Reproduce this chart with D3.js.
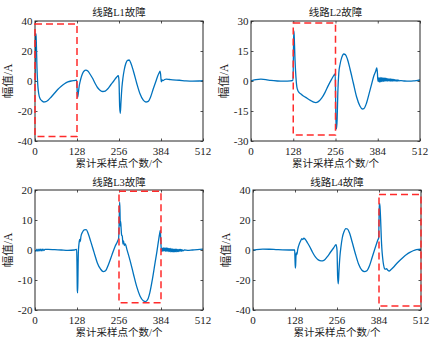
<!DOCTYPE html>
<html><head><meta charset="utf-8">
<script src="https://cdn.jsdelivr.net/npm/d3@7"></script>
<style>body{margin:0;background:#fff}svg{display:block}</style></head>
<body>
<script>
const xTicks = [0, 128, 256, 384, 512];
const titles = ["线路L1故障", "线路L2故障", "线路L3故障", "线路L4故障"];
const xLabel = "累计采样点个数/个";
const yLabel = "幅值/A";
const yTicks1 = [-40, -20, 0, 20, 40];
const yTicks2 = [-30, -15, 0, 15, 30];
const yTicks3 = [-20, -10, 0, 10, 20];
const yTicks4 = [-40, -20, 0, 20, 40];

// fault windows [x0, x1, y0, y1]
const box1 = [0, 128, -37, 38];
const box2 = [128, 256, -27, 29];
const box3 = [256, 384, -17.6, 19.6];
const box4 = [384, 512, -37.3, 37];

// sampled current waveforms [sample, amplitude]
const series1 = [[0,0],[0.6,20],[2,31],[3,31.5],[4,26],[6,9],[8,-1],[11,-8],[15,-11.5],[20,-13],[27,-14],[33,-13.8],[40,-12.8],[50,-10.5],[60,-8],[70,-5.5],[80,-3.5],[90,-1.8],[100,-0.6],[110,0],[120,0.3],[127,0.5],[128,-4],[130,-11],[132,-8],[135,-3],[139,1],[144,4.5],[149,6.5],[155,7.2],[161,6.6],[168,4.5],[175,2],[183,-1.5],[191,-4.5],[199,-6.3],[207,-7],[214,-6.7],[222,-5.2],[231,-2.5],[240,0],[248,2.3],[254,3.5],[256,0],[258,-17],[260,-21.5],[262,-14],[265,-4],[268,2],[272,7.5],[277,11.8],[282,13.8],[287,14],[292,12],[300,6.5],[310,-1.5],[320,-8.5],[330,-12.8],[338,-14],[345,-13.6],[352,-10.8],[360,-5.5],[368,-0.5],[374,3.3],[378,5.3],[381,6.5],[383,4],[385,-0.5],[387,0.8],[390,0.2],[395,1],[400,1.2],[410,1],[420,0.8],[440,0.5],[460,0.1],[480,-0.1],[500,0],[512,0.2]];

const series2 = [[0,0],[5,0.3],[15,0.7],[30,0.9],[45,0.7],[60,0.3],[80,0],[100,-0.1],[120,0.1],[127,0.3],[128,6],[129,20],[130,25],[131,22],[133,12],[135,5],[137,0],[139,-3],[142,-4.8],[146,-5.8],[150,-6.4],[155,-7],[160,-7.6],[170,-8.6],[180,-9.7],[190,-10.6],[196,-10.8],[204,-10.3],[214,-8.6],[224,-5.8],[234,-2.3],[244,0.8],[251,2.8],[255,3.6],[256,-4],[257,-18],[259,-24],[261,-19],[263,-6],[266,4],[270,8.5],[275,11.8],[281,13.5],[286,13.2],[292,11],[300,6],[310,-1],[320,-8],[330,-12.5],[337,-14],[342,-13.8],[350,-11],[358,-6.2],[366,-1.2],[372,2.5],[378,5],[381,6.5],[383,4],[384,1],[385,-0.3],
 [387,1.6],[389,-0.5],[391,1.8],[393,-0.4],[395,1.7],[397,-0.3],[399,1.6],[401,-0.2],[403,1.5],[405,-0.1],[407,1.4],[409,0],[411,1.3],[413,0],[415,1.2],[417,0.1],[419,1.1],[421,0],[423,1],[425,0],[427,0.9],[429,0],[431,0.8],[433,0],[435,0.7],[437,0],[439,0.6],[441,0],[443,0.5],[445,0],[447,0.4],[450,0.1],[455,0.2],[465,0],[480,-0.1],[495,0.1],[505,0.3],[512,0.5]];

const series3 = [[0,0],[3,-0.4],[6,0.3],[9,-0.4],[12,0.3],[15,-0.3],[18,0.3],[21,-0.3],[24,0.3],[27,-0.2],[30,0.2],[40,0.2],[60,0.1],[80,0],[100,-0.1],[120,0],[127,0.2],[128,-5],[129,-13.5],[130,-14.3],[131,-8],[132,-1],[134,2],[136,3.5],[138,2.8],[140,4.5],[145,6],[150,6.7],[156,6.8],[162,5.5],[170,2.8],[180,-0.8],[190,-4.3],[200,-6.4],[208,-7.2],[215,-6.9],[224,-4.8],[234,-1.8],[244,1.2],[252,3],[255,4],[257,12],[258,16],[259,13],[260,8],[261,9.5],[262,8],[264,5],[266,4.6],[268,2],[270,3],[272,1.5],[275,2],[280,0.2],[290,-3.6],[300,-8],[310,-12.2],[320,-15.3],[330,-16.9],[337,-17.2],[343,-16.6],[350,-14.2],[358,-9.6],[366,-4.2],[372,-0.2],[376,2.8],[380,5.5],[382,6.5],[383,4],[385,0],[386,-0.5],
 [388,0.6],[390,-0.4],[392,0.7],[394,-0.3],[396,0.7],[398,-0.4],[400,0.7],[402,-0.4],[404,0.6],[406,-0.5],[408,0.5],[410,-0.5],[412,0.5],[414,-0.6],[416,0.4],[418,-0.6],[420,0.4],[422,-0.6],[424,0.3],[426,-0.6],[428,0.3],[430,-0.6],[432,0.3],[434,-0.5],[436,0.2],[438,-0.5],[440,0.2],[442,-0.4],[444,0.2],[446,-0.4],[448,0.1],[450,-0.3],[455,0],[465,-0.1],[480,0],[495,0.1],[512,0.3]];

const series4 = [[0,0],[10,0.3],[30,0.6],[50,0.5],[70,0.3],[90,0.1],[110,0],[127,0],[128,-6],[129,-12],[130,-10],[131,-4],[132,-2],[134,-3],[136,0],[138,2],[141,4],[145,6],[149,7.5],[152,7],[155,7.9],[159,7.2],[166,4.8],[173,2.2],[181,-1.3],[190,-4.6],[199,-6.6],[208,-7.3],[216,-6.9],[226,-4.6],[236,-1.5],[246,1.5],[253,3.5],[256,0],[258,-18],[260,-22.5],[262,-14],[265,-4],[268,2],[272,8],[277,12],[283,14.3],[288,14],[294,11.5],[302,5.5],[312,-2.5],[322,-9.5],[332,-13.5],[340,-14.4],[347,-13.8],[355,-10.5],[363,-5],[371,0.5],[377,4.5],[381,7],[383,8],[384,20],[385,29],[386,31],[387,29],[389,20],[391,8],[393,0],[395,-5],[398,-10],[401,-12.5],[404,-12.8],[407,-12.5],[411,-13.5],[415,-14],[420,-13.2],[428,-11.5],[438,-9],[448,-6.8],[458,-4.8],[468,-3],[478,-1.6],[488,-0.5],[498,0.2],[512,0.5]];

const panels = [
  {left:35, right:203, top:21, bottom:141, yTicks:yTicks1, data:series1, box:box1, title:titles[0]},
  {left:251, right:420, top:21, bottom:141, yTicks:yTicks2, data:series2, box:box2, title:titles[1]},
  {left:35, right:203, top:190, bottom:310, yTicks:yTicks3, data:series3, box:box3, title:titles[2]},
  {left:253, right:421, top:190, bottom:310, yTicks:yTicks4, data:series4, box:box4, title:titles[3]}
];

const numFont = "'Liberation Serif','Times New Roman',serif";
const cjkFont = "'Liberation Serif','Noto Sans CJK SC',serif";
const axisColor = "#262626";

const svg = d3.select("body").append("svg").attr("width", 432).attr("height", 345);

panels.forEach((p, i) => {
  const x = d3.scaleLinear().domain([0, 512]).range([p.left, p.right]);
  const yd = d3.extent(p.yTicks);
  const y = d3.scaleLinear().domain(yd).range([p.bottom, p.top]);
  const g = svg.append("g");
  const tl = 2.5;

  // clip
  const cid = "clip" + i;
  g.append("clipPath").attr("id", cid).append("rect")
    .attr("x", p.left).attr("y", p.top).attr("width", p.right - p.left).attr("height", p.bottom - p.top);

  // axes with inward ticks on all sides
  g.append("g").attr("transform", `translate(0,${p.bottom})`)
    .call(d3.axisBottom(x).tickValues(xTicks).tickSize(-tl).tickPadding(4))
    .call(a => { a.select(".domain").remove(); a.selectAll("text").remove(); });
  g.append("g").attr("transform", `translate(0,${p.top})`)
    .call(d3.axisTop(x).tickValues(xTicks).tickSize(-tl))
    .call(a => { a.select(".domain").remove(); a.selectAll("text").remove(); });
  g.append("g").attr("transform", `translate(${p.left},0)`)
    .call(d3.axisLeft(y).tickValues(p.yTicks).tickSize(-tl))
    .call(a => { a.select(".domain").remove(); a.selectAll("text").remove(); });
  g.append("g").attr("transform", `translate(${p.right},0)`)
    .call(d3.axisRight(y).tickValues(p.yTicks).tickSize(-tl))
    .call(a => { a.select(".domain").remove(); a.selectAll("text").remove(); });
  g.selectAll(".tick line").attr("stroke", axisColor).attr("stroke-width", 0.8);

  // tick labels
  g.selectAll(".xl").data(xTicks).join("text")
    .attr("x", d => x(d)).attr("y", p.bottom + 13.5)
    .attr("text-anchor", "middle").attr("font-family", numFont).attr("font-size", 11)
    .attr("fill", "#222").text(d => d);
  g.selectAll(".yl").data(p.yTicks).join("text")
    .attr("x", p.left - 2.5).attr("y", d => y(d)).attr("dy", "0.35em")
    .attr("text-anchor", "end").attr("font-family", numFont).attr("font-size", 11)
    .attr("fill", "#222").text(d => d);

  // waveform
  const line = d3.line().x(d => x(d[0])).y(d => y(d[1])).curve(d3.curveMonotoneX);
  g.append("path").datum(p.data).attr("d", line)
    .attr("fill", "none").attr("stroke", "#0072BD").attr("stroke-width", 1.3)
    .attr("stroke-linejoin", "round").attr("clip-path", `url(#${cid})`);

  // frame
  g.append("rect").attr("x", p.left).attr("y", p.top)
    .attr("width", p.right - p.left).attr("height", p.bottom - p.top)
    .attr("fill", "none").attr("stroke", axisColor).attr("stroke-width", 1);

  // fault window box
  const b = p.box;
  g.append("rect").attr("x", x(b[0])).attr("y", y(b[3]))
    .attr("width", x(b[1]) - x(b[0])).attr("height", y(b[2]) - y(b[3]))
    .attr("fill", "none").attr("stroke", "#ff2b2b").attr("stroke-width", 1.5)
    .attr("stroke-dasharray", "7,4");

  // title
  g.append("text").attr("x", (p.left + p.right) / 2).attr("y", p.top - (i < 2 ? 5.5 : 4.5))
    .attr("text-anchor", "middle").attr("font-family", cjkFont).attr("font-size", 10.5)
    .attr("fill", "#222").text(p.title);
  // x label
  g.append("text").attr("x", (p.left + p.right) / 2).attr("y", p.bottom + 25.5)
    .attr("text-anchor", "middle").attr("font-family", cjkFont).attr("font-size", 10.5)
    .attr("fill", "#222").text(xLabel);
  // y label
  const cy = (p.top + p.bottom) / 2;
  g.append("text").attr("transform", `translate(${p.left - 27.5},${cy}) rotate(-90)`)
    .attr("dy", "0.35em")
    .attr("text-anchor", "middle").attr("font-family", cjkFont).attr("font-size", 11.5)
    .attr("fill", "#222").text(yLabel);
});
</script>
</body></html>
